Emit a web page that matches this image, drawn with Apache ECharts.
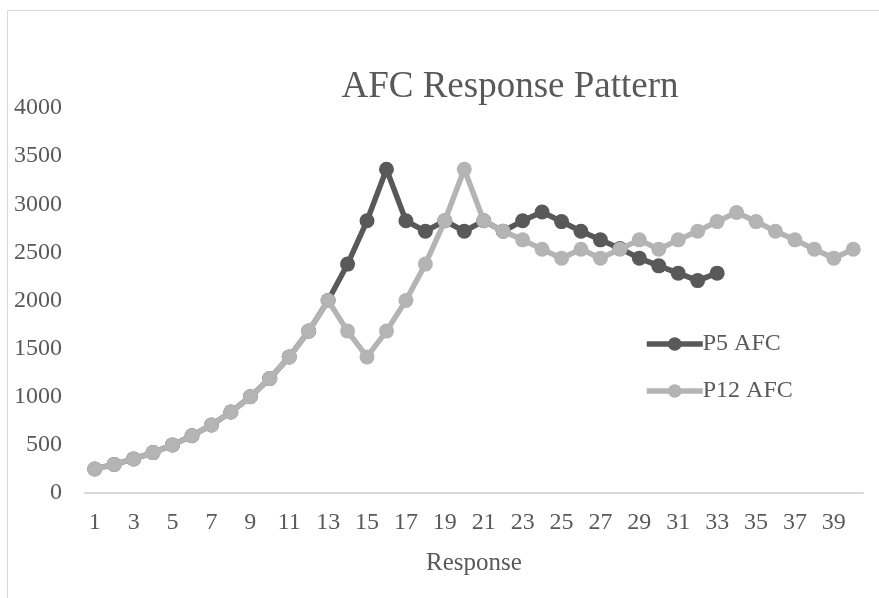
<!DOCTYPE html>
<html>
<head>
<meta charset="utf-8">
<script src="https://cdn.jsdelivr.net/npm/echarts@6/dist/echarts.min.js"></script>
<style>
  html, body { margin: 0; padding: 0; background: #ffffff; }
  #chart { width: 879px; height: 598px; }
</style>
</head>
<body>
<div id="chart"></div>
<script>
// Response numbers 1..40
const responses = Array.from({ length: 40 }, (_, i) => String(i + 1));

// Shared rising run, responses 1-13
const sharedRun = [250, 297, 354, 420, 500, 595, 707, 841, 1000, 1189, 1414, 1682, 2000];

// P5 AFC, responses 14-33
const p5Tail = [2378, 2828, 3364, 2828, 2720, 2828, 2720, 2828, 2720, 2828,
                2920, 2820, 2720, 2630, 2540, 2440, 2360, 2284, 2207, 2284];

// P12 AFC, responses 14-40
const p12Tail = [1682, 1414, 1682, 2000, 2378, 2828, 3364, 2828, 2720, 2630,
                 2533, 2440, 2533, 2440, 2533, 2630, 2533, 2630, 2720, 2820,
                 2914, 2820, 2720, 2630, 2533, 2440, 2533];

const yTicks = [0, 500, 1000, 1500, 2000, 2500, 3000, 3500, 4000];

const p5Values = sharedRun.concat(p5Tail);
const p12Values = sharedRun.concat(p12Tail);

const textColor = '#595959';
const serif = '"Liberation Serif", "Times New Roman", serif';

const chart = echarts.init(document.getElementById('chart'), null, { renderer: 'canvas' });

chart.setOption({
  backgroundColor: '#ffffff',
  animation: false,
  textStyle: { fontFamily: serif, color: textColor },
  graphic: [{
    type: 'rect',
    shape: { x: 7.5, y: 10.5, width: 900, height: 620 },
    style: { fill: 'none', stroke: '#d9d9d9', lineWidth: 1 },
    silent: true
  }],
  title: {
    text: 'AFC Response Pattern',
    left: 505,
    top: 64,
    textAlign: 'center',
    textStyle: { fontFamily: serif, fontSize: 37, fontWeight: 'normal', color: textColor }
  },
  legend: {
    orient: 'vertical',
    left: 644,
    top: 332,
    padding: 0,
    itemWidth: 56,
    itemHeight: 17,
    itemGap: 23,
    lineStyle: { width: 5.5 },
    textStyle: { fontFamily: serif, fontSize: 24, color: textColor, padding: [0, 0, 0, -5] },
    data: ['P5 AFC', 'P12 AFC']
  },
  grid: { left: 85, right: 16, top: 108, bottom: 105, containLabel: false },
  xAxis: {
    type: 'category',
    data: responses,
    boundaryGap: true,
    name: 'Response',
    nameLocation: 'middle',
    nameGap: 58,
    nameTextStyle: { fontFamily: serif, fontSize: 25, color: textColor },
    axisLine: { show: true, lineStyle: { color: '#d9d9d9', width: 2 } },
    axisTick: { show: false },
    axisLabel: { interval: 1, margin: 18, fontFamily: serif, fontSize: 24, color: textColor },
    splitLine: { show: false }
  },
  yAxis: {
    type: 'value',
    min: yTicks[0],
    max: yTicks[yTicks.length - 1],
    interval: yTicks[1] - yTicks[0],
    axisLine: { show: false },
    axisTick: { show: false },
    axisLabel: {
      margin: 23, fontFamily: serif, fontSize: 24, color: textColor,
      formatter: (v) => String(v)
    },
    splitLine: { show: false }
  },
  series: [
    {
      name: 'P12 AFC',
      type: 'line',
      data: p12Values,
      symbol: 'circle',
      symbolSize: 15,
      showAllSymbol: true,
      z: 2,
      lineStyle: { color: '#b4b4b4', width: 5.5 },
      itemStyle: { color: '#b4b4b4' }
    },
    {
      name: 'P5 AFC',
      type: 'line',
      data: p5Values,
      symbol: 'circle',
      symbolSize: 15,
      showAllSymbol: true,
      z: 1,
      lineStyle: { color: '#595959', width: 5.5 },
      itemStyle: { color: '#595959' }
    }
  ]
});
</script>
</body>
</html>
